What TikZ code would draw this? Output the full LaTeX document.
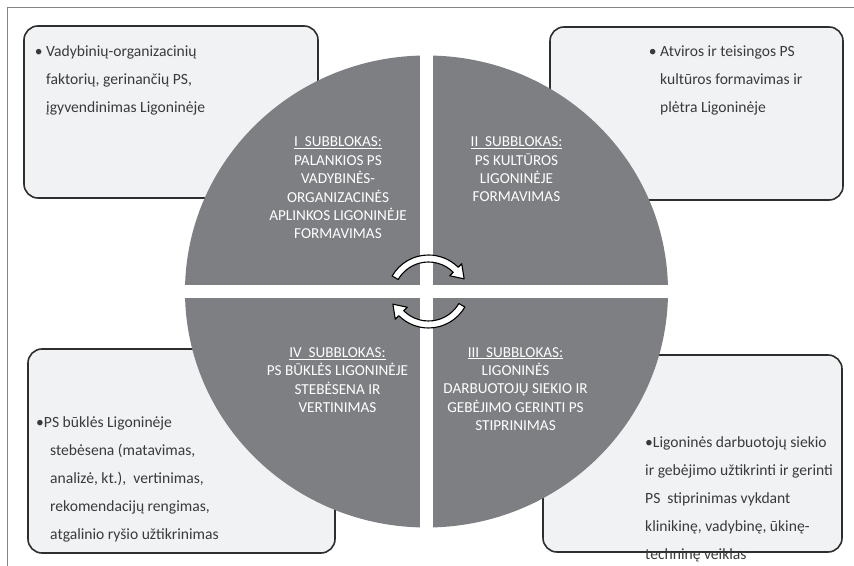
\documentclass[tikz,border=0pt]{standalone}
\usepackage{fontspec}
\setmainfont{Carlito}
\usepackage{tikz}
\usetikzlibrary{calc,positioning}

\definecolor{quadgray}{HTML}{7E7F83}
\definecolor{boxfill}{HTML}{F1F2F4}
\definecolor{boxline}{HTML}{2E2E2E}
\definecolor{boxtext}{HTML}{3A3A3A}
\definecolor{framegray}{HTML}{858585}

\begin{document}
\begin{tikzpicture}
  [x=1pt,y=1pt,
   infobox/.style={rectangle,
                   draw=boxline,
                   fill=boxfill,
                   line width=1.6pt,
                   rounded corners=14pt,
                   inner sep=0pt},
   infotext/.style={anchor=north west,
                    align=left,
                    inner sep=0pt,
                    text=boxtext,
                    font=\fontsize{15.6}{28}\selectfont},
   blocktext/.style={align=center,
                     inner sep=0pt,
                     text=white,
                     font=\fontsize{15.2}{18.4}\selectfont},
   quad/.style={fill=quadgray},
   cyclearrow/.style={fill=white,draw=black,line width=1.1pt,line join=round}]
  \useasboundingbox (0,0) rectangle (854,565);
  % page frame
  \draw[framegray,line width=0.8pt] (7,-10) -- (7,558) -- (870,558);

  % outer boxes
  \node[infobox,minimum width=294pt,minimum height=172pt] (boxI) at (171,453) {};
  \node[infobox,minimum width=293pt,minimum height=173pt] (boxII) at (696.5,451.5) {};
  \node[infobox,minimum width=299pt,minimum height=197pt] (boxIII) at (692.5,111.5) {};
  \node[infobox,minimum width=307pt,minimum height=204pt] (boxIV) at (181.5,114) {};

  \node[infotext] (textI) at (46,519.5)
    {\llap{•\ }Vadybinių-organizacinių\\faktorių, gerinančių PS,\\įgyvendinimas Ligoninėje};
  \node[infotext] (textII) at (660,519)
    {\llap{•\ }Atviros ir teisingos PS\\kultūros formavimas ir\\plėtra Ligoninėje};
  \node[infotext] (textIII) at (645,129)
    {•Ligoninės darbuotojų siekio\\ir gebėjimo užtikrinti ir gerinti\\PS\ \ stiprinimas vykdant\\klinikinę, vadybinę, ūkinę-\\techninę veiklas};
  \node[infotext] (textIV) at (36,149)
    {•PS būklės Ligoninėje\\\hspace*{14pt}stebėsena (matavimas,\\\hspace*{14pt}analizė, kt.),\ \ vertinimas,\\\hspace*{14pt}rekomendacijų rengimas,\\\hspace*{14pt}atgalinio ryšio užtikrinimas};

  % the four quarters
  \coordinate (c) at (426.5,273.5);
  \begin{scope}
    \clip (c) ellipse [x radius=241.5, y radius=236];
    \fill[quad] ($(c)+(-6.5,6.5)$) rectangle ++(-260,260);
    \fill[quad] ($(c)+(6.5,6.5)$) rectangle ++(260,260);
    \fill[quad] ($(c)+(6.5,-6.5)$) rectangle ++(260,-260);
    \fill[quad] ($(c)+(-6.5,-6.5)$) rectangle ++(-260,-260);
  \end{scope}

  \node[blocktext] (blockI) at (338,377)
    {\underline{I\ \ SUBBLOKAS:}\\PALANKIOS PS\\VADYBINĖS-\\ORGANIZACINĖS\\APLINKOS LIGONINĖJE\\FORMAVIMAS};
  \node[blocktext] (blockII) at (516.5,395.5)
    {\underline{II\ \ SUBBLOKAS:}\\PS KULTŪROS\\LIGONINĖJE\\FORMAVIMAS};
  \node[blocktext] (blockIII) at (515.5,176)
    {\underline{III\ \ SUBBLOKAS:}\\LIGONINĖS\\DARBUOTOJŲ SIEKIO IR\\GEBĖJIMO GERINTI PS\\STIPRINIMAS};
  \node[blocktext] (blockIV) at (337.5,185)
    {\underline{IV\ \ SUBBLOKAS:}\\PS BŪKLĖS LIGONINĖJE\\STEBĖSENA IR\\VERTINIMAS};

  % cycle arrows
  \coordinate (ta) at (428.5,268);
  \draw[cyclearrow] ($(ta)+(150:42)$) arc[start angle=150,end angle=45,radius=42]
    -- ($(ta)+(45:47)$) -- ($(ta)+(27:40)$) -- ($(ta)+(45:30)$) -- ($(ta)+(45:35)$)
    arc[start angle=45,end angle=150,radius=35] -- cycle;
  \coordinate (ba) at (428.5,279);
  \draw[cyclearrow] ($(ba)+(330:42)$) arc[start angle=330,end angle=225,radius=42]
    -- ($(ba)+(225:47)$) -- ($(ba)+(207:40)$) -- ($(ba)+(225:30)$) -- ($(ba)+(225:35)$)
    arc[start angle=225,end angle=330,radius=35] -- cycle;
\end{tikzpicture}
\end{document}
